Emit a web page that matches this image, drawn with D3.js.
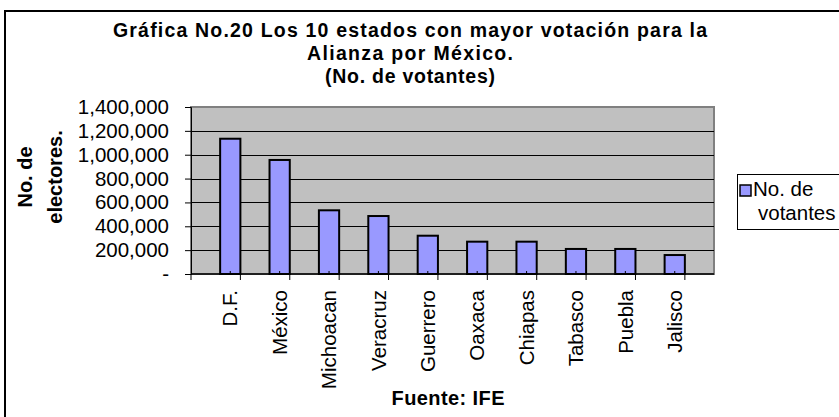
<!DOCTYPE html>
<html>
<head>
<meta charset="utf-8">
<script src="https://cdn.jsdelivr.net/npm/d3@7"></script>
<style>
  body { margin: 0; background: #fff; }
  svg { display: block; font-family: Arial, "Liberation Sans", sans-serif; }
</style>
</head>
<body>
<div id="graph"></div>
<script>
// data
const estados = ["D.F.", "México", "Michoacan", "Veracruz", "Guerrero", "Oaxaca", "Chiapas", "Tabasco", "Puebla", "Jalisco"];
const votantes = [1134000, 956000, 534000, 486000, 321000, 271000, 271000, 210000, 210000, 159000];
const yTicks = [0, 200000, 400000, 600000, 800000, 1000000, 1200000, 1400000];
const titleLines = ["Gráfica No.20 Los 10 estados con mayor votación para la", "Alianza por México.", "(No. de votantes)"];
const yTitleLines = ["No. de", "electores."];
const legendLines = ["No. de", "votantes"];

const W = 839, H = 417;
const plot = { left: 191, right: 714, top: 107, bottom: 274 };
// widths of the title lines as they appear (Excel spreads the letters out)
const titleWidths = [594, 206, 170];

const svg = d3.select("#graph").append("svg")
  .attr("width", W).attr("height", H);

// chart frame (runs off the right and bottom edge)
svg.append("rect")
  .attr("x", 5).attr("y", 11)
  .attr("width", 900).attr("height", 500)
  .attr("fill", "#fff").attr("stroke", "#000").attr("stroke-width", 2);

const x = d3.scaleBand().domain(estados).range([plot.left, plot.right]).padding(0.59);
const y = d3.scaleLinear().domain([0, 1400000]).range([plot.bottom, plot.top]);

// plot area
svg.append("rect")
  .attr("x", plot.left).attr("y", plot.top)
  .attr("width", plot.right - plot.left).attr("height", plot.bottom - plot.top)
  .attr("fill", "#c0c0c0").attr("stroke", "#808080").attr("stroke-width", 2);

// gridlines
svg.append("g").selectAll("line")
  .data(yTicks.filter(d => d > 0 && d < 1400000))
  .join("line")
  .attr("x1", plot.left).attr("x2", plot.right)
  .attr("y1", d => Math.round(y(d)) + 0.5).attr("y2", d => Math.round(y(d)) + 0.5)
  .attr("stroke", "#000").attr("stroke-width", 1);

// bars
svg.append("g").selectAll("rect")
  .data(votantes)
  .join("rect")
  .attr("x", (d, i) => x(estados[i]))
  .attr("y", d => y(d))
  .attr("width", x.bandwidth())
  .attr("height", d => y(0) - y(d))
  .attr("fill", "#9999ff")
  .attr("stroke", "#000").attr("stroke-width", 2);

// little marks at the foot of each bar
svg.append("g").selectAll("line")
  .data(estados)
  .join("line")
  .attr("x1", d => x(d) + x.bandwidth() / 2).attr("x2", d => x(d) + x.bandwidth() / 2)
  .attr("y1", plot.bottom - 3).attr("y2", plot.bottom)
  .attr("stroke", "#000");

// y axis
const yAxis = d3.axisLeft(y)
  .tickValues(yTicks)
  .tickSize(6)
  .tickPadding(16)
  .tickFormat(d => d === 0 ? "-" : d3.format(",")(d));
const gy = svg.append("g")
  .attr("transform", `translate(${plot.left},0)`)
  .call(yAxis);
gy.select(".domain").attr("stroke", "#000");
gy.selectAll(".tick line").attr("stroke", "#000");
gy.selectAll(".tick text")
  .attr("font-size", 20.5).attr("fill", "#000")
  .attr("font-family", "Arial, 'Liberation Sans', sans-serif");

// x axis: ticks on category boundaries
const step = x.step();
const bounds = d3.range(estados.length + 1).map(i => plot.left + i * step);
svg.append("line")
  .attr("x1", plot.left).attr("x2", plot.right)
  .attr("y1", plot.bottom).attr("y2", plot.bottom)
  .attr("stroke", "#000").attr("stroke-width", 1.5);
svg.append("g").selectAll("line")
  .data(bounds)
  .join("line")
  .attr("x1", d => d).attr("x2", d => d)
  .attr("y1", plot.bottom).attr("y2", plot.bottom + 6)
  .attr("stroke", "#000");

svg.append("g").selectAll("text")
  .data(estados)
  .join("text")
  .attr("transform", d => `translate(${x(d) + x.bandwidth() / 2},290) rotate(-90)`)
  .attr("dy", "0.35em")
  .attr("text-anchor", "end")
  .attr("font-size", 20.5)
  .text(d => d);

// title
svg.append("g").selectAll("text")
  .data(titleLines)
  .join("text")
  .attr("x", 410)
  .attr("y", (d, i) => 37 + i * 23)
  .attr("text-anchor", "middle")
  .attr("font-size", 19.5)
  .attr("font-weight", "bold")
  .attr("textLength", (d, i) => titleWidths[i])
  .attr("lengthAdjust", "spacing")
  .text(d => d);

// y axis title
svg.append("g").selectAll("text")
  .data(yTitleLines)
  .join("text")
  .attr("transform", (d, i) => `translate(${32 + i * 30},177) rotate(-90)`)
  .attr("text-anchor", "middle")
  .attr("font-size", 20)
  .attr("font-weight", "bold")
  .text(d => d);

// x axis title
svg.append("text")
  .attr("x", 448).attr("y", 405)
  .attr("text-anchor", "middle")
  .attr("font-size", 20)
  .attr("font-weight", "bold")
  .attr("textLength", 113)
  .attr("lengthAdjust", "spacing")
  .text("Fuente: IFE");

// legend
const lg = svg.append("g").attr("transform", "translate(737,174)");
lg.append("rect")
  .attr("x", 0.5).attr("y", 0.5).attr("width", 130).attr("height", 55)
  .attr("fill", "#fff").attr("stroke", "#000");
lg.append("rect")
  .attr("x", 3).attr("y", 11).attr("width", 11).attr("height", 11)
  .attr("fill", "#9999ff").attr("stroke", "#000").attr("stroke-width", 1.5);
lg.selectAll("text.l")
  .data(legendLines)
  .join("text")
  .attr("class", "l")
  .attr("x", (d, i) => i === 0 ? 16 : 21)
  .attr("y", (d, i) => 22 + i * 24)
  .attr("font-size", 20.5)
  .text(d => d);
</script>
</body>
</html>
